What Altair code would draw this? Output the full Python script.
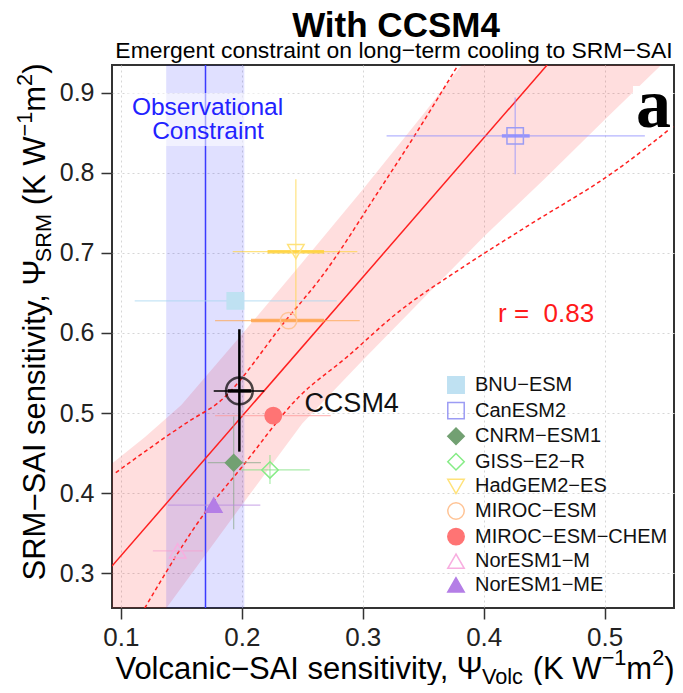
import altair as alt
import pandas as pd

# ---------------- data ----------------
models = ["BNU−ESM", "CanESM2", "CNRM−ESM1", "GISS−E2−R", "HadGEM2−ES",
          "MIROC−ESM", "MIROC−ESM−CHEM", "NorESM1−M", "NorESM1−ME"]
psi_volc = [0.1947, 0.4260, 0.1933, 0.2233, 0.2447, 0.2387, 0.2260, 0.1470, 0.1768]
psi_srm = [0.6400, 0.8460, 0.4380, 0.4290, 0.7015, 0.6154, 0.4968, 0.3280, 0.3850]
volc_lo = [0.1115, 0.3197, 0.1719, 0.1993, 0.1925, 0.1779, 0.1779, 0.1265, 0.1390]
volc_hi = [0.2785, 0.5332, 0.2158, 0.2562, 0.2955, 0.2975, 0.2735, 0.1678, 0.2153]
volc_lo_in = [0.1947, 0.4150, 0.1933, 0.2233, 0.2213, 0.2076, 0.2260, 0.1470, 0.1768]
volc_hi_in = [0.1947, 0.4380, 0.1933, 0.2233, 0.2680, 0.2680, 0.2260, 0.1470, 0.1768]
srm_lo = [0.6400, 0.7980, 0.3550, 0.4115, 0.6187, 0.6154, 0.4968, 0.3280, 0.3850]
srm_hi = [0.6400, 0.8940, 0.4956, 0.4477, 0.7919, 0.6154, 0.4968, 0.3280, 0.3850]

ccsm4_volc = [0.198]
ccsm4_srm = [0.5276]
ccsm4_volc_lo = [0.1768]
ccsm4_volc_hi = [0.2186]
ccsm4_volc_lo_in = [0.1884]
ccsm4_volc_hi_in = [0.2076]
ccsm4_srm_lo = [0.4518]
ccsm4_srm_hi = [0.6046]

obs_center = [0.170]
obs_lo = [0.1375]
obs_hi = [0.2021]

reg_x = [0.0927, 0.4524]
reg_y = [0.3090, 0.9345]

band_x = [0.0927, 0.12, 0.15, 0.20, 0.25, 0.30, 0.35, 0.40, 0.45, 0.50, 0.5573]
band_hi = [0.437, 0.470, 0.510, 0.598, 0.688, 0.779, 0.873, 0.970, 1.070, 1.170, 1.280]
band_lo = [0.165, 0.220, 0.282, 0.385, 0.487, 0.566, 0.643, 0.720, 0.792, 0.866, 0.950]

up_x = [0.0958, 0.1581, 0.1800, 0.2378, 0.2640, 0.3120, 0.3423, 0.3780]
up_y = [0.4256, 0.4914, 0.5122, 0.6183, 0.6662, 0.7744, 0.8450, 0.9325]
lo_x = [0.1197, 0.1692, 0.1993, 0.2461, 0.2873, 0.3285, 0.3835, 0.4357, 0.5099, 0.5575]
lo_y = [0.2563, 0.3749, 0.4311, 0.5185, 0.5704, 0.6250, 0.6828, 0.7330, 0.8035, 0.8590]

r_text = "r =\u00a0\u00a00.83"
x_ticks = [0.1, 0.2, 0.3, 0.4, 0.5]
y_ticks = [0.3, 0.4, 0.5, 0.6, 0.7, 0.8, 0.9]

# ---------------- styles / layout ----------------
FONT = "Liberation Sans"
OX, OY = 112, 65          # page position of the plot origin
W, H = 562, 543
X_DOM = [0.0927, 0.5573]
Y_DOM = [0.2566, 0.9345]

shapes = ["square", "square", "diamond", "diamond", "triangle-down",
          "circle", "circle", "triangle-up", "triangle-up"]
stroke_cols = ["#bfe1f2", "#9c9cf4", "#72a072", "#86ec86", "#ffe27a",
               "#ffc496", "#ff7474", "#f8aee0", "#b47ee6"]
fill_cols = ["#bfe1f2", "transparent", "#72a072", "transparent", "transparent",
             "transparent", "#ff7474", "transparent", "#b47ee6"]
err_cols = ["#a6d6f0", "#8c8cff", "#8aa88a", "#7de07d", "#ffd23c",
            "#ffa54d", "#ff9a9a", "#f5a0d0", "#b98ae0"]
sizes = [270, 270, 200, 430, 470, 260, 270, 470, 420]

AW = {' ': 0.278, '(': 0.333, ')': 0.333, ',': 0.278, '−': 0.584,
      '.': 0.278, 'A': 0.667, 'B': 0.667, 'C': 0.722, 'E': 0.667, 'I': 0.278,
      'K': 0.667, 'M': 0.833, 'R': 0.722, 'S': 0.667, 'V': 0.667, 'W': 0.944,
      'a': 0.556, 'c': 0.5, 'e': 0.556, 'i': 0.222, 'l': 0.222, 'm': 0.833,
      'n': 0.556, 'o': 0.556, 's': 0.5, 't': 0.278, 'v': 0.5, 'y': 0.5, 'Ψ': 0.68}


def tw(s, fs):
    return sum(AW.get(c, 0.556) for c in s) * fs


def px(v):
    return alt.value(v - OX)


def py(v):
    return alt.value(v - OY)


# ---------------- tables ----------------
df = pd.DataFrame({"model": models, "x": psi_volc, "y": psi_srm,
                   "xlo": volc_lo, "xhi": volc_hi, "xlo_in": volc_lo_in,
                   "xhi_in": volc_hi_in, "ylo": srm_lo, "yhi": srm_hi})
cc = pd.DataFrame({"x": ccsm4_volc, "y": ccsm4_srm, "xlo": ccsm4_volc_lo,
                   "xhi": ccsm4_volc_hi, "xlo_in": ccsm4_volc_lo_in,
                   "xhi_in": ccsm4_volc_hi_in, "ylo": ccsm4_srm_lo,
                   "yhi": ccsm4_srm_hi})
obs = pd.DataFrame({"c": obs_center, "lo": obs_lo, "hi": obs_hi})
reg = pd.DataFrame({"x": reg_x, "y": reg_y})
band = pd.DataFrame({"x": band_x, "lo": band_lo, "hi": band_hi})
dash = pd.concat([pd.DataFrame({"x": up_x, "y": up_y, "side": "upper"}),
                  pd.DataFrame({"x": lo_x, "y": lo_y, "side": "lower"})])
one = pd.DataFrame({"_": [0]})

xs = alt.Scale(domain=X_DOM, nice=False, zero=False)
ys = alt.Scale(domain=Y_DOM, nice=False, zero=False)

xaxis = alt.Axis(values=x_ticks, format=".1f", title=None, domain=False,
                 tickSize=11, tickWidth=1.5, tickColor="#333333",
                 labelFont=FONT, labelFontSize=26, labelColor="#222222",
                 labelPadding=5, labelFlush=False, grid=True,
                 gridColor="#d6d6d6", gridDash=[2, 3], gridWidth=1)
yaxis = alt.Axis(values=y_ticks, format=".1f", title=None, domain=False,
                 tickSize=11, tickWidth=1.5, tickColor="#333333",
                 labelFont=FONT, labelFontSize=25, labelColor="#222222",
                 labelPadding=7, labelFlush=False, grid=True,
                 gridColor="#d6d6d6", gridDash=[2, 3], gridWidth=1)


def X(f):
    return alt.X(f, type="quantitative", scale=xs, axis=xaxis)


def Y(f):
    return alt.Y(f, type="quantitative", scale=ys, axis=yaxis)


layers = []

# confidence band
layers.append(alt.Chart(band).mark_area(color="#ff0000", opacity=0.13, clip=True).encode(
    x=X("x"), y=Y("lo"), y2="hi"))

# observational constraint
layers.append(alt.Chart(obs).mark_rect(color="#0000ff", opacity=0.12).encode(
    x=X("lo"), x2="hi"))
layers.append(alt.Chart(obs).mark_rule(color="#3b3bff", strokeWidth=1.5).encode(x=X("c")))
layers.append(alt.Chart(one).mark_rect(color="white", opacity=0.55).encode(
    x=px(128), x2=px(288), y=py(93), y2=py(146)))

# regression and prediction lines
layers.append(alt.Chart(reg).mark_line(color="#ff2020", strokeWidth=1.5, clip=True).encode(
    x=X("x"), y=Y("y")))
layers.append(alt.Chart(dash).mark_line(color="#ff2020", strokeWidth=1.5, strokeDash=[4, 3],
                                        interpolate="monotone", clip=True).encode(
    x=X("x"), y=Y("y"), detail="side:N"))

# model error bars (one colour per model)
for i, m in enumerate(models):
    sub = df[df["model"] == m]
    c = err_cols[i]
    layers.append(alt.Chart(sub).mark_rule(color=c, strokeWidth=1.2, opacity=0.65).encode(
        x=X("xlo"), x2="xhi", y=Y("y")))
    layers.append(alt.Chart(sub).mark_rule(color=c, strokeWidth=1.2, opacity=0.65).encode(
        x=X("x"), y=Y("ylo"), y2="yhi"))
    layers.append(alt.Chart(sub).mark_rule(color=c, strokeWidth=3.5, opacity=0.85).encode(
        x=X("xlo_in"), x2="xhi_in", y=Y("y")))

# model points with legend
leg = alt.Legend(title=None, orient="none", legendX=334, legendY=310, labelFont=FONT,
                 labelFontSize=20, labelColor="#111111", symbolStrokeWidth=1.5,
                 rowPadding=1.6, labelOffset=9, labelLimit=400, padding=0)
layers.append(alt.Chart(df).mark_point(filled=False, strokeWidth=1.5, opacity=1, fillOpacity=1).encode(
    x=X("x"), y=Y("y"),
    shape=alt.Shape("model:N", scale=alt.Scale(domain=models, range=shapes), legend=leg),
    stroke=alt.Stroke("model:N", scale=alt.Scale(domain=models, range=stroke_cols), legend=leg),
    fill=alt.Fill("model:N", scale=alt.Scale(domain=models, range=fill_cols), legend=leg),
    size=alt.Size("model:N", scale=alt.Scale(domain=models, range=sizes), legend=leg)))

# CCSM4
layers.append(alt.Chart(cc).mark_rule(color="black", strokeWidth=1.5).encode(
    x=X("xlo"), x2="xhi", y=Y("y")))
layers.append(alt.Chart(cc).mark_rule(color="black", strokeWidth=3.5).encode(
    x=X("xlo_in"), x2="xhi_in", y=Y("y")))
layers.append(alt.Chart(cc).mark_rule(color="black", strokeWidth=2.5).encode(
    x=X("x"), y=Y("ylo"), y2="yhi"))
layers.append(alt.Chart(cc).mark_point(shape="circle", size=713, strokeWidth=2.5, color="black",
                                       filled=False).encode(x=X("x"), y=Y("y")))
layers.append(alt.Chart(cc).mark_text(text="CCSM4", font=FONT, fontSize=27, align="left",
                                      baseline="alphabetic", dx=65, dy=21, color="#111111").encode(
    x=X("x"), y=Y("y")))

# annotations
layers.append(alt.Chart(one).mark_text(text="Observational", font=FONT, fontSize=24.5,
                                       color="#2222ff", align="center", baseline="alphabetic").encode(
    x=px(207.5), y=py(115)))
layers.append(alt.Chart(one).mark_text(text="Constraint", font=FONT, fontSize=24.5,
                                       color="#2222ff", align="center", baseline="alphabetic").encode(
    x=px(208), y=py(139.3)))
layers.append(alt.Chart(one).mark_text(text=r_text, font=FONT, fontSize=26, color="#ff1a1a",
                                       align="left", baseline="alphabetic").encode(
    x=px(498), y=py(321.7)))
layers.append(alt.Chart(one).mark_rect(color="white").encode(
    x=px(633), x2=px(673), y=py(86), y2=py(130)))
layers.append(alt.Chart(one).mark_text(text="a", font="Liberation Serif", fontWeight="bold",
                                       fontSize=70, color="black", align="left",
                                       baseline="alphabetic").encode(
    x=px(636), y=py(127)))

# titles
layers.append(alt.Chart(one).mark_text(text="With CCSM4", font=FONT, fontWeight="bold",
                                       fontSize=35, color="black", align="center",
                                       baseline="alphabetic").encode(
    x=px(396), y=py(37)))
layers.append(alt.Chart(one).mark_text(text="Emergent constraint on long−term cooling to SRM−SAI",
                                       font=FONT, fontSize=22.9, color="black", align="center",
                                       baseline="alphabetic").encode(
    x=px(394), y=py(57.5)))

# axis titles with sub/superscripts
FS = 31
SF = 0.7 * FS
GAP = 0.278 * FS


def pieces(main, sub):
    return [(main, FS, 0.0, 0.0), (sub, SF, 0.18 * FS, GAP), ("(K W", FS, 0.0, 0.0),
            ("−1", SF, -0.42 * FS, 0.0), ("m", FS, 0.0, 0.0), ("2", SF, -0.42 * FS, 0.0),
            (")", FS, 0.0, 0.0)]


xp = pieces("Volcanic−SAI sensitivity, Ψ", "Volc")
total = sum(tw(t, f) + g for t, f, _, g in xp)
cx = 395 - total / 2
for t, f, d, g in xp:
    layers.append(alt.Chart(one).mark_text(text=t, font=FONT, fontSize=f, dy=d, color="black",
                                           align="left", baseline="alphabetic").encode(
        x=px(cx), y=py(678.5)))
    cx += tw(t, f) + g

yp = pieces("SRM−SAI sensitivity, Ψ", "SRM")
total = sum(tw(t, f) + g for t, f, _, g in yp)
cy = 322 + total / 2
for t, f, d, g in yp:
    layers.append(alt.Chart(one).mark_text(text=t, font=FONT, fontSize=f, dy=d, angle=270,
                                           color="black", align="left",
                                           baseline="alphabetic").encode(
        x=px(45), y=py(cy)))
    cy -= tw(t, f) + g

chart = alt.layer(*layers).properties(
    width=W, height=H,
    autosize=alt.AutoSizeParams(type="none"),
    padding={"left": OX - 8, "top": OY - 8, "right": 1, "bottom": 77},
).configure_view(stroke="#333333", strokeWidth=2)

chart.save("out.html", embed_options={"renderer": "svg", "actions": False})
